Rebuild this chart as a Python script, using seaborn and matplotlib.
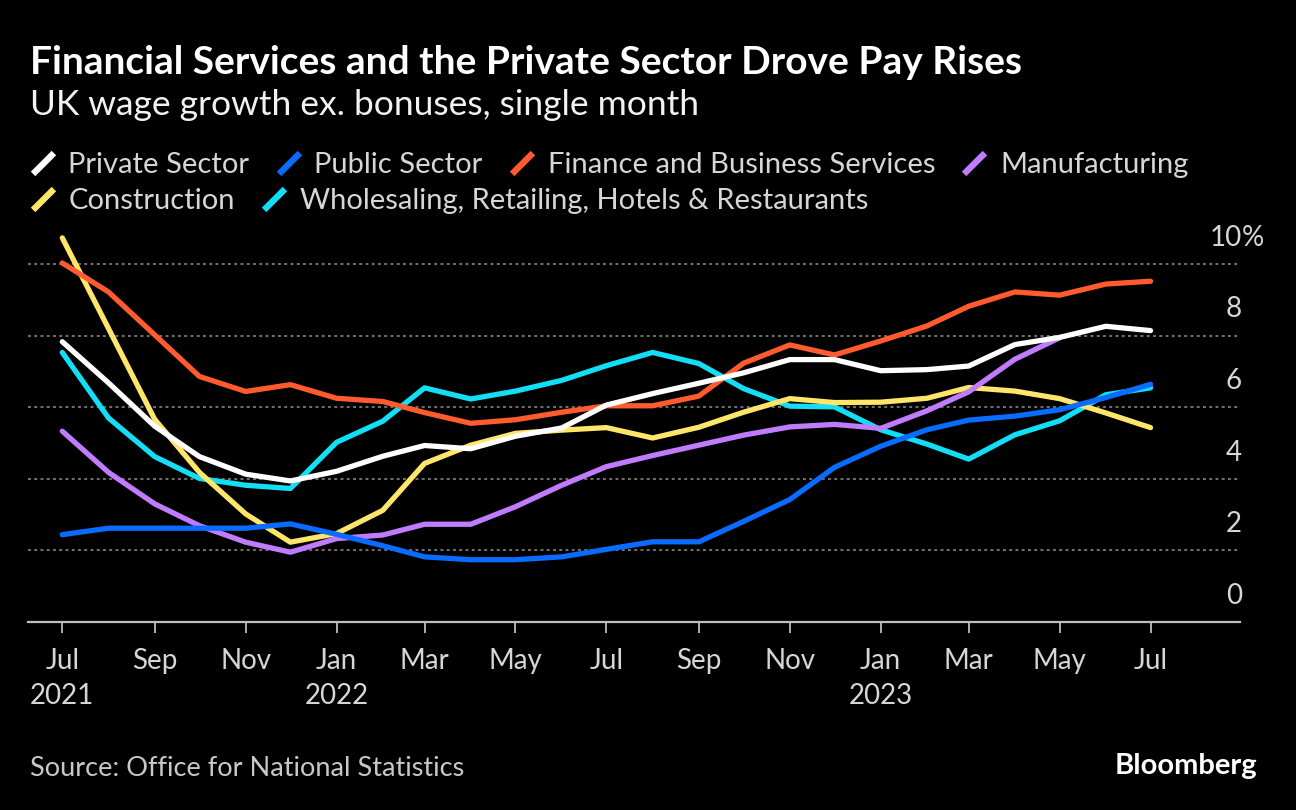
import numpy as np
import pandas as pd
import matplotlib
matplotlib.use("Agg")
import matplotlib.pyplot as plt
import matplotlib.transforms as mtransforms
from matplotlib.lines import Line2D
from matplotlib.path import Path
import seaborn as sns

# monthly wage growth ex. bonuses (%), Jul 2021 - Jul 2023
months = pd.date_range("2021-07-01", "2023-07-01", freq="MS")
private = [7.83, 6.68, 5.47, 4.62, 4.13, 3.94, 4.21, 4.63, 4.93, 4.84, 5.19, 5.42, 6.06,
           6.38, 6.67, 6.96, 7.33, 7.33, 7.02, 7.05, 7.15, 7.75, 7.95, 8.26, 8.14]
public = [2.44, 2.62, 2.62, 2.62, 2.62, 2.74, 2.45, 2.13, 1.82, 1.74, 1.74, 1.82, 2.03,
          2.24, 2.24, 2.81, 3.42, 4.32, 4.91, 5.37, 5.64, 5.75, 5.93, 6.27, 6.64]
finance = [10.03, 9.22, 8.02, 6.86, 6.44, 6.63, 6.25, 6.16, 5.85, 5.55, 5.65, 5.86, 6.04,
           6.04, 6.31, 7.23, 7.74, 7.46, 7.85, 8.27, 8.82, 9.22, 9.13, 9.44, 9.52]
manufacturing = [5.33, 4.18, 3.30, 2.69, 2.23, 1.95, 2.33, 2.43, 2.73, 2.73, 3.22, 3.82, 4.34,
                 4.65, 4.94, 5.22, 5.45, 5.52, 5.41, 5.90, 6.43, 7.34, 7.94, np.nan, np.nan]
construction = [10.73, 8.20, 5.66, 4.18, 3.02, 2.23, 2.47, 3.12, 4.43, 4.94, 5.27, 5.36, 5.43,
                5.14, 5.44, 5.86, 6.24, 6.13, 6.14, 6.25, 6.55, 6.45, 6.24, 5.84, 5.43]
wholesale = [7.53, 5.70, 4.62, 4.01, 3.82, 3.73, 5.02, 5.61, 6.54, 6.23, 6.45, 6.75, 7.16,
             7.53, 7.22, 6.52, 6.03, 6.01, 5.37, 4.97, 4.55, 5.23, 5.62, 6.35, 6.54]

series_names = ["Private Sector", "Public Sector", "Finance and Business Services",
                "Manufacturing", "Construction", "Wholesaling, Retailing, Hotels & Restaurants"]
series_colors = ["#ffffff", "#0a6bff", "#ff5b2e", "#c07bff", "#ffe66b", "#12def6"]

tick_dates = pd.to_datetime(["2021-07-01", "2021-09-01", "2021-11-01", "2022-01-01", "2022-03-01",
                             "2022-05-01", "2022-07-01", "2022-09-01", "2022-11-01", "2023-01-01",
                             "2023-03-01", "2023-05-01", "2023-07-01"])
tick_labels = ["Jul\n2021", "Sep", "Nov", "Jan\n2022", "Mar", "May", "Jul",
               "Sep", "Nov", "Jan\n2023", "Mar", "May", "Jul"]
y_ticks = [0, 2, 4, 6, 8, 10]

wide = pd.DataFrame(dict(zip(series_names, [private, public, finance, manufacturing,
                                            construction, wholesale])), index=months)
wide.index.name = "date"
long_df = wide.reset_index().melt(id_vars="date", var_name="series", value_name="value")

sns.set_style("dark", {"axes.facecolor": "black", "figure.facecolor": "black"})
plt.rcParams["font.family"] = ["Lato", "DejaVu Sans"]

W, H = 1296, 810
fig = plt.figure(figsize=(W / 100, H / 100), dpi=100)
ax = fig.add_axes([28 / W, 188 / H, 1212 / W, (622 - 231.8) / H])

sns.lineplot(data=long_df, x="date", y="value", hue="series",
             hue_order=series_names[::-1], palette=dict(zip(series_names, series_colors)),
             estimator=None, linewidth=3.8, legend=False, ax=ax,
             solid_capstyle="round", solid_joinstyle="round")

ax.set_xlim(pd.Timestamp("2021-06-08"), pd.Timestamp("2023-08-30"))
ax.set_ylim(0, 10.9)
ax.set_xlabel("")
ax.set_ylabel("")

# grid
ax.set_yticks(y_ticks)
ax.yaxis.grid(True, color="#6e6e6e", linewidth=1.5, linestyle=(0, (1.4, 1.6)))
ax.xaxis.grid(False)
ax.set_axisbelow(True)
ax.tick_params(axis="y", length=0, labelleft=False)

for side in ["top", "left", "right"]:
    ax.spines[side].set_visible(False)
ax.spines["bottom"].set_color("#bdbdbd")
ax.spines["bottom"].set_linewidth(1.6)

ax.set_xticks(tick_dates)
ax.set_xticklabels(tick_labels, linespacing=1.42)
ax.tick_params(axis="x", direction="out", length=8, width=1.3, color="#bdbdbd",
               pad=10.5, labelsize=20, labelcolor="#d6d6d6", bottom=True)

# right-side value labels sitting above gridlines
trans = mtransforms.blended_transform_factory(ax.transAxes, ax.transData)
xr = 1.0017
for v in y_ticks:
    ax.text(xr, v + 0.73, str(v), ha="right", va="center", transform=trans,
            fontsize=20, color="#d6d6d6")
ax.text(xr, y_ticks[-1] + 0.73, "%", ha="left", va="center", transform=trans,
        fontsize=20, color="#d6d6d6")

# titles
fig.text(30 / W, 1 - 62 / H, "Financial Services and the Private Sector Drove Pay Rises",
         fontsize=28, fontweight="bold", color="white", va="center", ha="left")
fig.text(30 / W, 1 - 105 / H, "UK wage growth ex. bonuses, single month",
         fontsize=25.5, color="#f2f2f2", va="center", ha="left")

# legend rows with slanted markers
slash = Path([(-0.5, -0.5), (0.5, 0.5)], [Path.MOVETO, Path.LINETO])
handles = [Line2D([], [], color=c, marker=slash, markersize=15, markeredgewidth=4.6,
                  linestyle="None") for c in series_colors]
leg_kw = dict(loc="center left", frameon=False, fontsize=21, labelcolor="#d6d6d6",
              handlelength=1.0, handletextpad=0.38, columnspacing=0.85,
              borderpad=0, borderaxespad=0)
fig.legend(handles=handles[:4], labels=series_names[:4], ncol=4,
           bbox_to_anchor=(28 / W, 1 - 165 / H), **leg_kw)
fig.legend(handles=handles[4:], labels=series_names[4:], ncol=2,
           bbox_to_anchor=(28 / W, 1 - 201 / H), **leg_kw)

# footer
fig.text(30 / W, 1 - 768 / H, "Source: Office for National Statistics",
         fontsize=19.5, color="#c8c8c8", va="center", ha="left")
fig.text(1257 / W, 1 - 766 / H, "Bloomberg", fontsize=21, fontweight="bold",
         color="white", va="center", ha="right")

fig.savefig("out.png", dpi=100, facecolor="black")
